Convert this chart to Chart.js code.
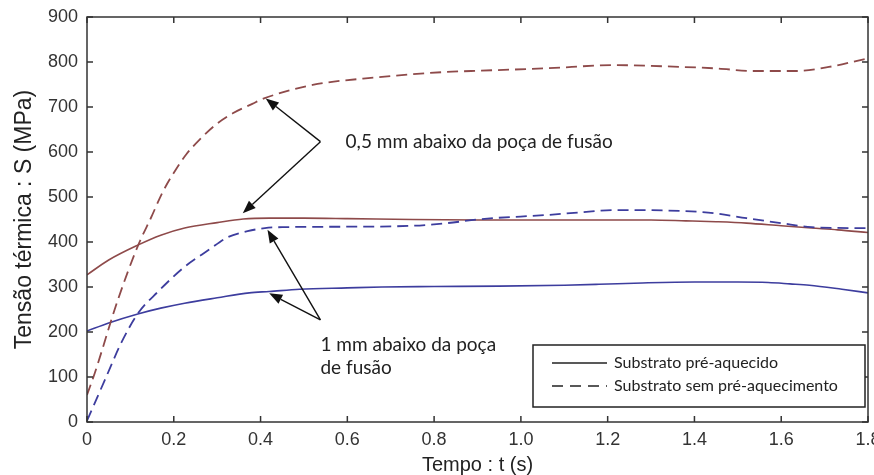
<!DOCTYPE html>
<html>
<head>
<meta charset="utf-8">
<script src="https://cdn.jsdelivr.net/npm/chart.js@4"></script>
<style>
  html, body { margin: 0; padding: 0; background: #fff; }
</style>
</head>
<body>
<canvas id="chart" width="874" height="475"></canvas>
<script>
// tick values and labels
const xTickValues = [0, 0.2, 0.4, 0.6, 0.8, 1.0, 1.2, 1.4, 1.6, 1.8];
const xTickLabels = ["0", "0.2", "0.4", "0.6", "0.8", "1.0", "1.2", "1.4", "1.6", "1.8"];
const yTickValues = [0, 100, 200, 300, 400, 500, 600, 700, 800, 900];

// substrato pré-aquecido, 0,5 mm (red solid)
const redSolidT = [0, 0.05, 0.117, 0.17, 0.225, 0.3, 0.36, 0.42, 0.5, 0.6, 0.75, 0.9, 1.1, 1.3, 1.38, 1.45, 1.52, 1.6, 1.67, 1.73, 1.8];
const redSolidS = [327, 360, 393, 415, 431, 443, 451, 453, 453, 452, 450, 449, 449, 449, 447, 445, 442, 436, 431, 427, 421];

// substrato pré-aquecido, 1 mm (blue solid)
const blueSolidT = [0, 0.05, 0.117, 0.17, 0.225, 0.3, 0.374, 0.42, 0.49, 0.6, 0.68, 0.8, 0.95, 1.1, 1.18, 1.28, 1.4, 1.5, 1.57, 1.62, 1.665, 1.74, 1.8];
const blueSolidS = [202, 220, 240, 253, 264, 276, 287, 290, 295, 298, 300, 301, 302, 304, 306, 309, 311, 311, 310, 307, 304, 295, 287];

// substrato sem pré-aquecimento, 0,5 mm (red dashed)
const redDashT = [0, 0.018, 0.071, 0.118, 0.148, 0.175, 0.206, 0.229, 0.259, 0.297, 0.336, 0.381, 0.408, 0.52, 0.67, 0.83, 0.885, 1.06, 1.215, 1.37, 1.445, 1.54, 1.635, 1.71, 1.79, 1.8];
const redDashS = [60, 109, 271, 393, 455, 512, 563, 595, 627, 661, 686, 707, 719, 749, 766, 778, 780, 786, 793, 789, 786, 780, 780, 789, 806, 808];

// substrato sem pré-aquecimento, 1 mm (blue dashed)
const blueDashT = [0, 0.011, 0.041, 0.08, 0.118, 0.163, 0.225, 0.28, 0.325, 0.37, 0.41, 0.45, 0.6, 0.75, 0.83, 0.91, 1.06, 1.14, 1.215, 1.37, 1.445, 1.52, 1.6, 1.67, 1.79, 1.8];
const blueDashS = [3, 27, 93, 178, 242, 289, 345, 382, 411, 424, 431, 433, 434, 436, 442, 451, 460, 466, 471, 469, 464, 453, 442, 433, 431, 431];

const legendLabels = ["Substrato pré-aquecido", "Substrato sem pré-aquecimento"];

// annotations in data units (t, S)
const annotations = [
  { lines: ["0,5 mm abaixo da poça de fusão"], textAt: [0.596, 622], from: [0.538, 623], to: [[0.412, 719], [0.359, 464]] },
  { lines: ["1 mm abaixo da poça", "de fusão"], textAt: [0.538, 171], from: [0.538, 227], to: [[0.416, 427], [0.42, 286]] },
];

const red = "#8e4a4a";
const blue = "#3d3d9e";
const axisFont = "'Liberation Sans', Arial, sans-serif";
const noteFont = "Lato, 'Open Sans', sans-serif";

function pts(ts, ss) {
  return ts.map((t, i) => ({ x: t, y: ss[i] }));
}

const frameTicks = {
  id: "frameTicks",
  afterDatasetsDraw(chart) {
    const { ctx, chartArea: a, scales: { x, y } } = chart;
    ctx.save();
    ctx.strokeStyle = "#333";
    ctx.lineWidth = 1.5;
    ctx.strokeRect(a.left, a.top, a.right - a.left, a.bottom - a.top);
    ctx.beginPath();
    x.ticks.forEach((t) => {
      const px = x.getPixelForValue(t.value);
      ctx.moveTo(px, a.bottom); ctx.lineTo(px, a.bottom - 6);
      ctx.moveTo(px, a.top); ctx.lineTo(px, a.top + 6);
    });
    y.ticks.forEach((t) => {
      const py = y.getPixelForValue(t.value);
      ctx.moveTo(a.left, py); ctx.lineTo(a.left + 6, py);
      ctx.moveTo(a.right, py); ctx.lineTo(a.right - 6, py);
    });
    ctx.stroke();
    ctx.restore();
  },
};

const notes = {
  id: "notes",
  afterDatasetsDraw(chart) {
    const { ctx, scales: { x, y } } = chart;
    ctx.save();
    ctx.strokeStyle = "#111";
    ctx.fillStyle = "#111";
    ctx.lineWidth = 1.4;
    annotations.forEach((n) => {
      const fx = x.getPixelForValue(n.from[0]);
      const fy = y.getPixelForValue(n.from[1]);
      n.to.forEach((p) => {
        const tx = x.getPixelForValue(p[0]);
        const ty = y.getPixelForValue(p[1]);
        const ang = Math.atan2(ty - fy, tx - fx);
        const len = 13, half = 5;
        const bx = tx - len * Math.cos(ang), by = ty - len * Math.sin(ang);
        ctx.beginPath();
        ctx.moveTo(fx, fy);
        ctx.lineTo(bx, by);
        ctx.stroke();
        ctx.beginPath();
        ctx.moveTo(tx, ty);
        ctx.lineTo(bx + half * Math.sin(ang), by - half * Math.cos(ang));
        ctx.lineTo(bx - half * Math.sin(ang), by + half * Math.cos(ang));
        ctx.closePath();
        ctx.fill();
      });
      ctx.font = "19px " + noteFont;
      ctx.fillStyle = "#222";
      ctx.textAlign = "left";
      ctx.textBaseline = "middle";
      const tx = x.getPixelForValue(n.textAt[0]);
      const ty = y.getPixelForValue(n.textAt[1]);
      n.lines.forEach((line, i) => ctx.fillText(line, tx, ty + i * 23));
      ctx.fillStyle = "#111";
    });
    ctx.restore();
  },
};

const boxLegend = {
  id: "boxLegend",
  afterDatasetsDraw(chart) {
    const { ctx, chartArea: a } = chart;
    const w = 332, h = 62;
    const right = a.right - 3, bottom = a.bottom - 15;
    const left = right - w, top = bottom - h;
    ctx.save();
    ctx.fillStyle = "#fff";
    ctx.fillRect(left, top, w, h);
    ctx.strokeStyle = "#222";
    ctx.lineWidth = 1.5;
    ctx.strokeRect(left, top, w, h);
    ctx.font = "16px " + noteFont;
    ctx.textBaseline = "middle";
    ctx.textAlign = "left";
    legendLabels.forEach((label, i) => {
      const ly = top + 18 + i * 23;
      ctx.beginPath();
      ctx.setLineDash(i === 0 ? [] : [11, 7]);
      ctx.lineWidth = 1.5;
      ctx.moveTo(left + 19, ly);
      ctx.lineTo(left + 74, ly);
      ctx.stroke();
      ctx.setLineDash([]);
      ctx.fillStyle = "#222";
      ctx.fillText(label, left + 81, ly);
    });
    ctx.restore();
  },
};

const ctx = document.getElementById("chart").getContext("2d");
const chart = new Chart(ctx, {
  type: "line",
  data: {
    datasets: [
      { data: pts(redDashT, redDashS), borderColor: red, borderWidth: 1.8, borderDash: [11, 6] },
      { data: pts(blueDashT, blueDashS), borderColor: blue, borderWidth: 1.8, borderDash: [11, 6] },
      { data: pts(redSolidT, redSolidS), borderColor: red, borderWidth: 1.6 },
      { data: pts(blueSolidT, blueSolidS), borderColor: blue, borderWidth: 1.6 },
    ],
  },
  options: {
    responsive: false,
    animation: false,
    events: [],
    layout: { padding: { left: 0, top: 17, right: 6, bottom: 0 } },
    elements: {
      point: { radius: 0 },
      line: { cubicInterpolationMode: "monotone", fill: false },
    },
    plugins: { legend: { display: false }, tooltip: { enabled: false } },
    scales: {
      x: {
        type: "linear",
        min: 0,
        max: 1.8,
        grid: { display: false, drawTicks: false },
        border: { display: false },
        afterBuildTicks: (s) => { s.ticks = xTickValues.map((v) => ({ value: v })); },
        afterFit: (s) => { s.height = 53; s.paddingLeft = 0; s.paddingRight = 0; },
        ticks: {
          padding: 7,
          color: "#333",
          font: { family: axisFont, size: 18 },
          maxRotation: 0,
          callback: (v, i) => xTickLabels[i],
        },
        title: {
          display: true,
          text: "Tempo : t (s)",
          color: "#222",
          font: { family: axisFont, size: 20, lineHeight: 1 },
          padding: { top: 0, bottom: 0 },
        },
      },
      y: {
        min: 0,
        max: 900,
        grid: { display: false, drawTicks: false },
        border: { display: false },
        afterBuildTicks: (s) => { s.ticks = yTickValues.map((v) => ({ value: v })); },
        afterFit: (s) => { s.width = 87; s.paddingTop = 0; s.paddingBottom = 0; },
        ticks: {
          padding: 9,
          color: "#333",
          font: { family: axisFont, size: 18 },
        },
        title: {
          display: true,
          text: "Tensão térmica : S (MPa)",
          color: "#222",
          font: { family: axisFont, size: 23, lineHeight: 1 },
          padding: { top: 13, bottom: 0 },
        },
      },
    },
  },
  plugins: [frameTicks, notes, boxLegend],
});
</script>
</body>
</html>
